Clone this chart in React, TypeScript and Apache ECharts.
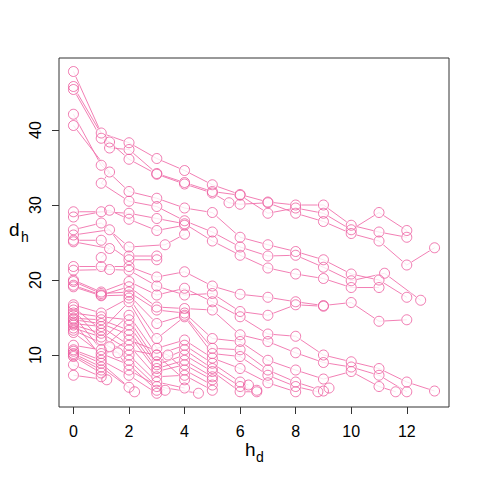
import React, { useEffect, useRef } from "react";
import * as echarts from "echarts";

// ---- data: each tree is a list of [h_d, d_h] measurements ----
const a1 = [[0,47.8],[1,39.6],[2,38.3],[3,36.2],[4,34.6],[5,32.7],[6,31.4],[7,30.4],[8,30.0],[9,30.0],[10,27.3],[11,26.4],[12,25.7]];
const a2 = [[0,45.8],[1.3,37.6],[2,37.4],[3,34.2],[4,33.0],[5,31.8],[6,31.3],[7,28.9],[8,29.6],[9,28.9],[10,26.7],[11,29.0],[12,26.6]];
const a3 = [[0,45.4],[1,38.9],[1.3,38.4],[2,36.1],[3,34.1],[4,32.8],[5,31.6],[5.6,30.3],[6,30.1],[7,30.3],[8,28.9],[9,27.8],[10,26.2],[11,25.2],[12,22.0],[13,24.3]];
const a4 = [[0,42.1],[1,35.3],[2,31.8],[3,30.9],[4,29.6],[5,29.0],[6,25.7],[7,24.7],[8,23.8],[9,22.7],[10,20.8],[11,20.0],[12,17.7]];
const a5 = [[0,40.6],[1.3,34.4],[1,32.9],[2,30.5],[3,29.8],[4,27.9],[5,26.4],[6,24.4],[7,23.2],[8,23.3],[9,21.7],[10,19.9],[11.2,20.9],[12.5,17.3]];
const b1 = [[0,29.1],[1,29.1],[2,28.9],[3,28.2],[4,27.5],[5,25.2],[6,23.3],[7,21.6],[8,20.8],[9,20.2],[10,19.0],[11,19.0]];
const b2 = [[0,28.4],[1.3,29.3],[2,28.1],[3,26.6],[4,27.3]];
const b3 = [[0,26.7],[1,27.6],[2,24.4],[3.3,24.7],[4,26.1]];
const b4 = [[0,26.0],[1.3,26.7],[2,23.2],[3,23.2]];
const b5 = [[0,25.3],[1,25.3],[2,22.7],[3,22.7]];
const b6 = [[0,25.1],[1.3,24.2],[1,23.0]];
const c1 = [[0,21.8],[1,21.8],[2,21.8],[3,20.4],[4,21.1],[5,19.2],[6,18.1],[7,17.7],[8,17.1],[9,16.6],[10,17.0],[11,14.5],[12,14.7]];
const c2 = [[0,21.3],[1.3,21.4],[2,21.3],[3,19.2],[4,18.0],[5,18.2],[6,15.8],[7,15.3],[8,16.7],[9,16.5]];
const c3 = [[0,20.0],[1,18.4],[2,19.8],[3,18.0],[4,18.9],[5,17.1],[6,15.1],[7,12.8],[8,12.5],[9,10.0],[10,9.1],[11,8.2],[12,6.4],[13,5.2]];
const c4 = [[0,19.3],[1,18.0],[2,19.1],[3,16.4],[4,16.2],[5,16.0],[6,12.7],[7,11.8],[8,10.3],[9,9.0],[10,8.4],[11,7.3],[12,5.1]];
const e1 = [[0,19.8],[1,18.2],[2,18.4],[3,16.0],[4,15.6],[5,12.2],[6,11.8],[7,9.3],[8,8.0],[9,6.8],[10,7.8],[11,5.8],[11.6,5.1]];
const e2 = [[0,19.1],[1,17.9],[2,18.0],[3,14.2],[4,15.3],[5,10.9],[6,10.7],[7,8.0],[8,6.4],[9,5.2]];
const e3 = [[0,16.7],[1,15.6],[2,17.6],[3,12.2],[4,15.1],[5,10.2],[6,9.8],[7,7.3],[8,5.8],[8.8,5.1],[9.2,5.6]];
const e4 = [[0,16.4],[1,13.3],[2,17.1],[3,10.9],[4,12.0],[5,9.6],[6,8.2],[7,6.3],[8,5.1]];
const e5 = [[0,16.0],[1,12.0],[2,15.3],[3,10.0],[4,11.3],[5,8.9],[6,6.4],[6.3,6.0]];
const e6 = [[0,15.6],[1,15.1],[2,14.7],[3,9.1],[4,10.7],[5,8.2],[6,5.8],[6.6,5.3]];
const e7 = [[0,15.3],[1,10.7],[2,14.0],[3,8.7],[4,10.0],[5,7.8],[6,5.1],[6.6,5.1]];
const e8 = [[0,14.9],[1,14.7],[2,13.3],[3,8.2],[4,9.3],[5,7.1]];
const e9 = [[0,14.7],[1,14.2],[2,12.7],[3,7.8],[4,8.7],[5,6.7]];
const e10 = [[0,14.4],[1,9.8],[2,12.0],[3.4,10.0],[4,8.0],[5,6.0]];
const e11 = [[0,14.2],[1,13.8],[2,11.3],[3,7.1],[4,7.3],[5,5.3]];
const e12 = [[0,14.0],[1,12.9],[2,10.7],[3,10.0],[4,6.7]];
const e13 = [[0,13.6],[1,12.4],[2,10.0],[3,6.4],[4,5.6]];
const e14 = [[0,13.3],[1.3,11.1],[2,9.3],[3,5.8],[4.5,4.9]];
const e15 = [[0,13.0],[1,10.2],[2,8.7],[3,5.3]];
const e16 = [[0,11.3],[1.6,10.3],[2,8.0],[3.3,5.3]];
const e17 = [[0,10.7],[1,9.3],[2,7.3],[3,4.9]];
const e18 = [[0,10.5],[1,8.9],[2,5.7]];
const e19 = [[0,10.2],[1,8.4],[2.2,5.1]];
const e20 = [[0,10.0],[1,8.0]];
const e21 = [[0,9.8],[1,7.6]];
const e22 = [[0,8.7],[1,7.1]];
const e23 = [[0,7.3],[1.2,6.7]];

const trees = [a1,a2,a3,a4,a5,b1,b2,b3,b4,b5,b6,c1,c2,c3,c4,e1,e2,e3,e4,e5,e6,e7,e8,e9,e10,e11,e12,e13,e14,e15,e16,e17,e18,e19,e20,e21,e22,e23];

const xTicks = [0, 2, 4, 6, 8, 10, 12];
const yTicks = [10, 20, 30, 40];

const PINK = "#EC5A9E";
const LINE_PINK = "#F070AC";
const FONT = "Liberation Sans, Arial, Helvetica, sans-serif";

export default function App() {
  const ref = useRef<HTMLDivElement>(null);
  useEffect(() => {
    if (!ref.current) return;
    const chart = echarts.init(ref.current, null, { renderer: "svg" });
    const allPts = trees.flat();
    const lineSeries = trees.map((t) => ({
      type: "line",
      data: t,
      showSymbol: false,
      symbol: "none",
      lineStyle: { color: LINE_PINK, width: 0.9 },
      z: 2,
      silent: true,
    }));
    chart.setOption({
      animation: false,
      backgroundColor: "#fff",
      grid: { left: 59, right: 31, top: 58, bottom: 73, show: true, borderColor: "#333", borderWidth: 1 },
      xAxis: {
        type: "value",
        min: -0.52,
        max: 13.52,
        axisLine: { show: false, onZero: false },
        splitLine: { show: false },
        axisTick: { show: true, length: 7, customValues: xTicks, lineStyle: { color: "#333" } },
        axisLabel: { customValues: xTicks, fontSize: 16, color: "#000", margin: 16, fontFamily: FONT },
      },
      yAxis: {
        type: "value",
        min: 3.07,
        max: 49.6,
        axisLine: { show: false, onZero: false },
        splitLine: { show: false },
        axisTick: { show: true, length: 7, customValues: yTicks, lineStyle: { color: "#333" } },
        axisLabel: { customValues: yTicks, fontSize: 16, color: "#000", margin: 16, rotate: 90, fontFamily: FONT },
      },
      series: [
        ...lineSeries,
        {
          type: "scatter",
          data: allPts,
          symbol: "circle",
          symbolSize: 12,
          itemStyle: { color: "#fff", borderWidth: 0 },
          z: 3,
          silent: true,
        },
        {
          type: "scatter",
          data: allPts,
          symbol: "circle",
          symbolSize: 10,
          itemStyle: { color: "rgba(0,0,0,0)", borderColor: PINK, borderWidth: 1 },
          z: 4,
          silent: true,
        },
      ],
      graphic: [
        { type: "text", left: 245, top: 440, style: { text: "h", fontSize: 19, fill: "#000", fontFamily: FONT } },
        { type: "text", left: 256, top: 450, style: { text: "d", fontSize: 14, fill: "#000", fontFamily: FONT } },
        { type: "text", left: 9, top: 220, style: { text: "d", fontSize: 19, fill: "#000", fontFamily: FONT } },
        { type: "text", left: 21, top: 230, style: { text: "h", fontSize: 14, fill: "#000", fontFamily: FONT } },
      ],
    });
    return () => chart.dispose();
  }, []);
  return (
    <div
      ref={ref}
      style={{ position: "fixed", left: 0, top: 0, width: 480, height: 480, background: "#fff" }}
    />
  );
}
